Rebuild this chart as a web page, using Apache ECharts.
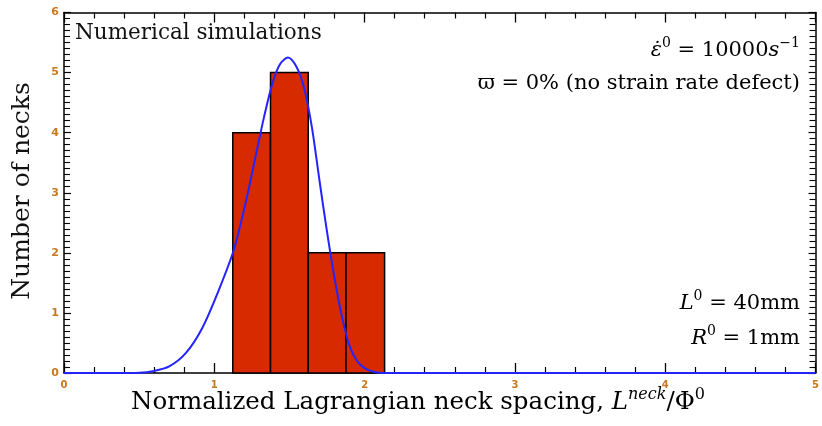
<!DOCTYPE html>
<html>
<head>
<meta charset="utf-8">
<script src="https://cdn.jsdelivr.net/npm/echarts@6/dist/echarts.min.js"></script>
<style>
html,body{margin:0;padding:0;background:#fff;}
#chart{width:822px;height:426px;}
</style>
</head>
<body>
<div id="chart"></div>
<script>
// Histogram bins (normalized neck spacing) and counts
const binStart = [1.123, 1.374, 1.625, 1.876];
const binEnd   = [1.374, 1.625, 1.876, 2.133];
const counts   = [4, 5, 2, 2];

// Fitted distribution curve
const fitX = [0, 0.37, 0.50, 0.59, 0.70, 0.81, 0.92, 1.03, 1.13, 1.21, 1.27, 1.33, 1.39, 1.44, 1.49, 1.55, 1.60, 1.65, 1.70, 1.75, 1.80, 1.85, 1.90, 1.95, 2.00, 2.06, 2.13, 3.0, 4.0, 5.0];
const fitY = [0, 0, 0.005, 0.03, 0.11, 0.33, 0.75, 1.38, 2.05, 2.85, 3.55, 4.25, 4.85, 5.15, 5.25, 5.08, 4.72, 4.08, 3.20, 2.35, 1.58, 0.93, 0.45, 0.20, 0.08, 0.02, 0, 0, 0, 0];

const xTickLabels = ['0', '1', '2', '3', '4', '5'];
const yTickLabels = ['0', '1', '2', '3', '4', '5', '6'];

const chart = echarts.init(document.getElementById('chart'), null, {renderer: 'canvas'});

const serif = 'DejaVu Serif';
const labelColor = '#c8781e';

function xAxisCfg(pos, showLabels) {
  return {
    type: 'value', position: pos, min: 0, max: 5, interval: 1,
    axisLine: {show: true, onZero: false, lineStyle: {color: '#000', width: 1.5}},
    axisTick: {show: true, inside: true, length: 10, lineStyle: {color: '#000', width: 1.3}},
    minorTick: {show: true, splitNumber: 5, length: 6, lineStyle: {color: '#000', width: 1.2}},
    splitLine: {show: false},
    axisLabel: {show: showLabels, margin: 7, color: labelColor, fontSize: 10, fontWeight: 'bold', fontFamily: 'DejaVu Sans',
      formatter: v => xTickLabels[Math.round(v)]}
  };
}
function yAxisCfg(pos, showLabels) {
  return {
    type: 'value', position: pos, min: 0, max: 6, interval: 1,
    axisLine: {show: true, onZero: false, lineStyle: {color: '#000', width: 1.5}},
    axisTick: {show: true, inside: true, length: 7, lineStyle: {color: '#000', width: 1.2}},
    minorTick: {show: true, splitNumber: 10, length: 6, lineStyle: {color: '#000', width: 1.1}},
    splitLine: {show: false},
    axisLabel: {show: showLabels, margin: 5, color: labelColor, fontSize: 11, fontWeight: 'bold', fontFamily: 'DejaVu Sans',
      formatter: v => yTickLabels[Math.round(v)]}
  };
}

function richSet(size, supSize, raise) {
  return {
    n: {fontFamily: serif, fontSize: size, color: '#111', verticalAlign: 'bottom'},
    i: {fontFamily: serif, fontSize: size, fontStyle: 'italic', color: '#111', verticalAlign: 'bottom'},
    s: {fontFamily: serif, fontSize: supSize, color: '#111', verticalAlign: 'bottom', padding: [0, 0, raise, 0]},
    si: {fontFamily: serif, fontSize: supSize, fontStyle: 'italic', color: '#111', verticalAlign: 'bottom', padding: [0, 0, raise, 0]}
  };
}
const mainRich = richSet(21, 14, 11);

chart.setOption({
  animation: false,
  backgroundColor: '#fff',
  grid: {left: 64, top: 12.5, right: 1, bottom: 53, containLabel: false},
  xAxis: [xAxisCfg('bottom', true), xAxisCfg('top', false)],
  yAxis: [yAxisCfg('left', true), yAxisCfg('right', false)],
  series: [
    {
      type: 'custom',
      xAxisIndex: 0, yAxisIndex: 0,
      data: counts.map((c, k) => [binStart[k], binEnd[k], c]),
      encode: {x: [0, 1], y: 2},
      renderItem: function (params, api) {
        const p0 = api.coord([api.value(0), api.value(2)]);
        const p1 = api.coord([api.value(1), 0]);
        return {
          type: 'rect',
          shape: {x: p0[0], y: p0[1], width: p1[0] - p0[0], height: p1[1] - p0[1]},
          style: {fill: '#d72a00', stroke: '#000', lineWidth: 1.5}
        };
      },
      z: 2
    },
    {
      type: 'line',
      xAxisIndex: 0, yAxisIndex: 0,
      data: fitX.map((x, k) => [x, fitY[k]]),
      smooth: 0.3,
      showSymbol: false,
      clip: false,
      lineStyle: {color: '#2424ff', width: 2},
      z: 3
    }
  ],
  graphic: [
    {type: 'text', x: 75, y: 33, z: 10,
      style: {text: 'Numerical simulations', fontFamily: serif, fontSize: 21.5, fill: '#111', align: 'left', verticalAlign: 'middle'}},
    {type: 'text', x: 800, y: 49, z: 10,
      style: {text: '{i|ε̇}{s|0}{n| = 10000}{i|s}{s|−1}', rich: mainRich, align: 'right', verticalAlign: 'middle'}},
    {type: 'text', x: 800, y: 84, z: 10,
      style: {text: '{n|ϖ = 0% (no strain rate defect)}', rich: mainRich, align: 'right', verticalAlign: 'middle'}},
    {type: 'text', x: 800, y: 302, z: 10,
      style: {text: '{i|L}{s|0}{n| = 40mm}', rich: mainRich, align: 'right', verticalAlign: 'middle'}},
    {type: 'text', x: 800, y: 337, z: 10,
      style: {text: '{i|R}{s|0}{n| = 1mm}', rich: mainRich, align: 'right', verticalAlign: 'middle'}},
    {type: 'text', x: 418, y: 401, z: 10,
      style: {
        text: '{n|Normalized Lagrangian neck spacing, }{i|L}{si|neck}{n|/Φ}{s|0}',
        align: 'center', verticalAlign: 'middle',
        rich: richSet(24.5, 16, 12)
      }},
    {type: 'text', x: 22, y: 191, z: 10, rotation: Math.PI / 2,
      style: {text: 'Number of necks', fontFamily: serif, fontSize: 25, fill: '#111', align: 'center', verticalAlign: 'middle'}}
  ]
});
</script>
</body>
</html>
